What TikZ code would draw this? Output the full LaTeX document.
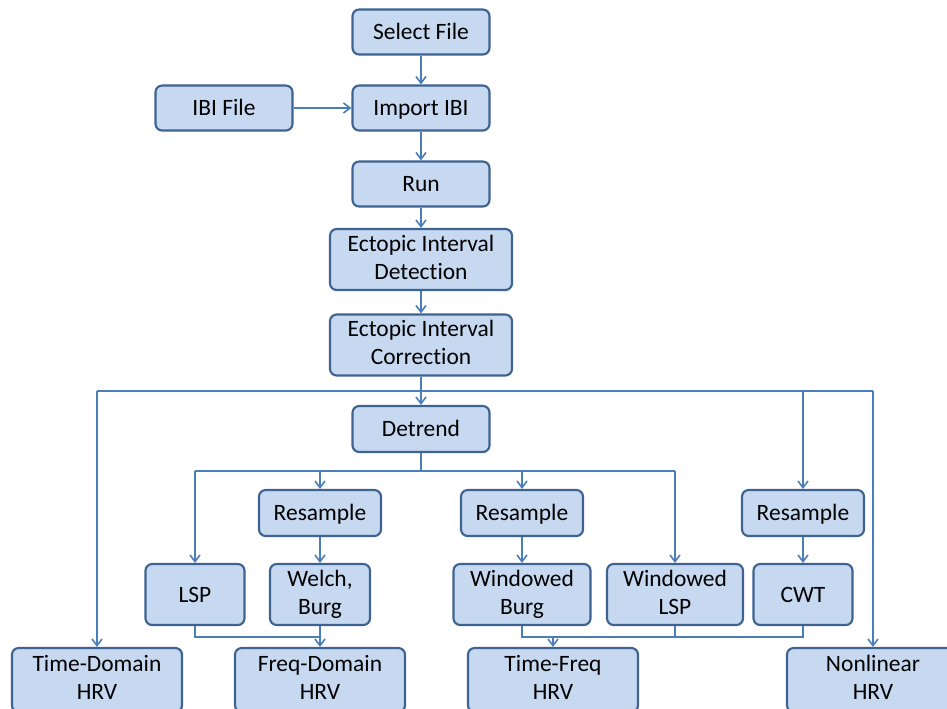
\documentclass[tikz,border=0pt]{standalone}
\usepackage{fontspec}
\setmainfont{Carlito}[Ligatures={NoCommon,NoRare,NoContextual}]
\usetikzlibrary{arrows.meta}
\definecolor{boxfill}{HTML}{C6D9F1}
\definecolor{boxline}{HTML}{3E6391}
\definecolor{wire}{HTML}{4A7EBB}
\newcommand\capstrut{\rule[-3.4pt]{0pt}{18.1pt}}
\tikzset{
  stepbox/.style={draw=boxline,fill=boxfill,line width=1.6pt,rounded corners=5pt,
    inner sep=0pt,align=center,font=\fontsize{17.6}{21}\selectfont,
    execute at begin node=\capstrut,execute at end node=\capstrut},
  wirel/.style={draw=wire,line width=1.3pt},
  arr/.style={wirel,-{Straight Barb[length=5pt,width=7.5pt,line width=1.2pt]}}
}
\begin{document}
\begin{tikzpicture}[x=0.75pt,y=-0.75pt]
\clip (0,0) rectangle (947,708);
\useasboundingbox (0,0) rectangle (947,708);
% top chain
\node[stepbox,minimum width=137*0.75pt,minimum height=45*0.75pt] (sel) at (421,32) {Select File};
\node[stepbox,minimum width=137*0.75pt,minimum height=45*0.75pt] (imp) at (421,108) {Import IBI};
\node[stepbox,minimum width=137*0.75pt,minimum height=45*0.75pt] (ibi) at (224,108) {IBI File};
\node[stepbox,minimum width=137*0.75pt,minimum height=45*0.75pt] (run) at (421,184) {Run};
\node[stepbox,minimum width=182*0.75pt,minimum height=61*0.75pt] (det) at (421,259.5) {Ectopic Interval\\Detection};
\node[stepbox,minimum width=182*0.75pt,minimum height=61*0.75pt] (cor) at (421,345) {Ectopic Interval\\Correction};
\node[stepbox,minimum width=137*0.75pt,minimum height=46*0.75pt] (dtr) at (421,429) {Detrend};
% resampling
\node[stepbox,minimum width=122*0.75pt,minimum height=46*0.75pt] (rsa) at (320,513) {Resample};
\node[stepbox,minimum width=122*0.75pt,minimum height=46*0.75pt] (rsb) at (522,513) {Resample};
\node[stepbox,minimum width=122*0.75pt,minimum height=46*0.75pt] (rsc) at (803,513) {Resample};
% spectral methods
\node[stepbox,minimum width=99*0.75pt,minimum height=61*0.75pt] (lsp) at (195,594.5) {LSP};
\node[stepbox,minimum width=100*0.75pt,minimum height=61*0.75pt] (wel) at (320,594.5) {Welch,\\Burg};
\node[stepbox,minimum width=137*0.75pt,minimum height=61*0.75pt] (wbg) at (522,594.5) {Windowed\\Burg};
\node[stepbox,minimum width=136*0.75pt,minimum height=61*0.75pt] (wls) at (675,594.5) {Windowed\\LSP};
\node[stepbox,minimum width=99*0.75pt,minimum height=61*0.75pt] (cwt) at (803,594.5) {CWT};
% outputs
\node[stepbox,minimum width=170*0.75pt,minimum height=64*0.75pt] (tdh) at (97,680) {Time-Domain\\HRV};
\node[stepbox,minimum width=170*0.75pt,minimum height=64*0.75pt] (fdh) at (320,680) {Freq-Domain\\HRV};
\node[stepbox,minimum width=170*0.75pt,minimum height=64*0.75pt] (tfh) at (553,680) {Time-Freq\\HRV};
\node[stepbox,minimum width=172*0.75pt,minimum height=64*0.75pt] (nlh) at (873,680) {Nonlinear\\HRV};
% bus levels
\coordinate (busa) at (421,391);
\coordinate (busb) at (421,471);
\coordinate (joina) at (320,637);
\coordinate (joinb) at (553,637);
% connectors
\draw[arr] (sel) -- (imp);
\draw[arr] (ibi) -- (imp);
\draw[arr] (imp) -- (run);
\draw[arr] (run) -- (det);
\draw[arr] (det) -- (cor);
\draw[arr] (cor) -- (dtr);
\draw[wirel] (tdh.north |- busa) -- (nlh.north |- busa);
\draw[arr] (tdh.north |- busa) -- (tdh);
\draw[arr] (rsc.north |- busa) -- (rsc);
\draw[arr] (nlh.north |- busa) -- (nlh);
\draw[wirel] (dtr) -- (busb);
\draw[wirel] (lsp.north |- busb) -- (wls.north |- busb);
\draw[arr] (lsp.north |- busb) -- (lsp);
\draw[arr] (rsa.north |- busb) -- (rsa);
\draw[arr] (rsb.north |- busb) -- (rsb);
\draw[arr] (wls.north |- busb) -- (wls);
\draw[arr] (rsa) -- (wel);
\draw[arr] (rsb) -- (wbg);
\draw[arr] (rsc) -- (cwt);
\draw[wirel] (lsp.south) |- (joina);
\draw[arr] (wel) -- (fdh);
\draw[wirel] (wbg.south) |- (joinb) -| (cwt.south);
\draw[wirel] (wls.south) -- (wls.south |- joinb);
\draw[arr] (joinb) -- (tfh);
\end{tikzpicture}
\end{document}
